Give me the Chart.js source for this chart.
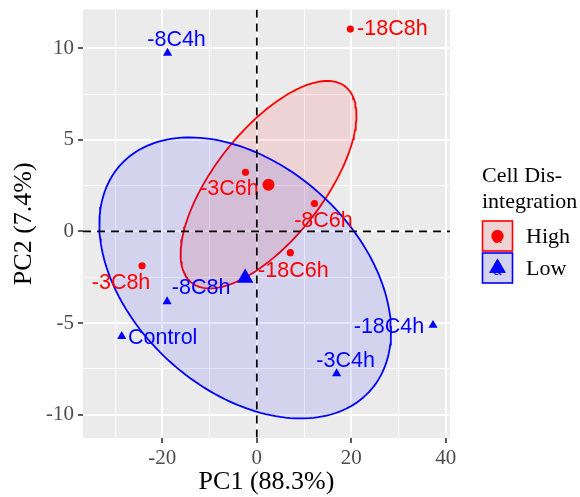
<!DOCTYPE html>
<html>
<head>
<meta charset="utf-8">
<script src="https://cdn.jsdelivr.net/npm/chart.js@4"></script>
<style>
  html, body { margin: 0; padding: 0; background: #ffffff; }
  #wrap { width: 580px; height: 497px; }
</style>
</head>
<body>
<div id="wrap"><canvas id="c" width="580" height="497"></canvas></div>
<script>
// ---------------- data ----------------
const groupNames = ['High', 'Low'];
const highLabels = ['-18C8h', '-3C6h', '-8C6h', '-18C6h', '-3C8h'];
const highX = [19.8, -2.4, 12.2, 7.1, -24.3];
const highY = [11.05, 3.23, 1.52, -1.16, -1.88];
const lowLabels = ['-8C4h', '-8C8h', 'Control', '-18C4h', '-3C4h'];
const lowX = [-18.9, -19.0, -28.6, 37.3, 16.9];
const lowY = [9.74, -3.83, -5.73, -5.12, -7.76];
const xTicks = [-30, -20, -10, 0, 10, 20, 30, 40];
const xTickLabels = ['', '-20', '', '0', '', '20', '', '40'];
const yTicks = [-10, -7.5, -5, -2.5, 0, 2.5, 5, 7.5, 10];
const yTickLabels = ['-10', '', '-5', '', '0', '', '5', '', '10'];
const xTitle = 'PC1 (88.3%)';
const yTitle = 'PC2 (7.4%)';
const legendTitle = ['Cell Dis-', 'integration'];
const ellipseLevelChi2 = 5.991465; // qchisq(0.95, 2)

// ---------------- style ----------------
const RED = '#FF0000', BLUE = '#0000FF';
const highLabelOffsets = [[42, 0], [-16, 17], [9, 17], [3, 18], [-21, 17]];
const lowLabelOffsets  = [[9, -13], [34, -13], [41, 2], [-44, 2], [9, -12]];

// confidence ellipse of the group mean (derived from the group's points)
function meanOf(a) { return a.reduce((s, v) => s + v, 0) / a.length; }
function confEllipse(xs, ys, segs) {
  const n = xs.length, mx = meanOf(xs), my = meanOf(ys);
  let sxx = 0, syy = 0, sxy = 0;
  for (let i = 0; i < n; i++) {
    sxx += (xs[i] - mx) ** 2; syy += (ys[i] - my) ** 2; sxy += (xs[i] - mx) * (ys[i] - my);
  }
  sxx /= (n - 1) * n; syy /= (n - 1) * n; sxy /= (n - 1) * n;
  const l11 = Math.sqrt(sxx), l21 = sxy / l11, l22 = Math.sqrt(syy - l21 * l21);
  const r = Math.sqrt(ellipseLevelChi2);
  const pts = [];
  for (let k = 0; k <= segs; k++) {
    const t = 2 * Math.PI * k / segs, c = Math.cos(t), s = Math.sin(t);
    pts.push({ x: mx + r * l11 * c, y: my + r * (l21 * c + l22 * s) });
  }
  return pts;
}
const toPts = (xs, ys) => xs.map((x, i) => ({ x, y: ys[i] }));

const bgPlugin = {
  id: 'bg',
  beforeDraw(chart) {
    const { ctx, chartArea: a } = chart;
    ctx.save();
    ctx.fillStyle = '#ffffff';
    ctx.fillRect(0, 0, chart.width, chart.height);
    ctx.fillStyle = '#EBEBEB';
    ctx.fillRect(a.left, a.top, a.right - a.left, a.bottom - a.top);
    ctx.restore();
  }
};

const overlayPlugin = {
  id: 'overlay',
  afterDatasetsDraw(chart) {
    const { ctx, chartArea: a, scales: { x, y } } = chart;
    ctx.save();
    ctx.beginPath();
    ctx.rect(a.left, a.top, a.right - a.left, a.bottom - a.top);
    ctx.clip();
    ctx.font = '21.5px "Liberation Sans", Arial, sans-serif';
    ctx.textAlign = 'center';
    ctx.textBaseline = 'middle';
    const drawLabels = (labels, xs, ys, offs, col) => {
      ctx.fillStyle = col;
      labels.forEach((t, i) => {
        ctx.fillText(t, x.getPixelForValue(xs[i]) + offs[i][0], y.getPixelForValue(ys[i]) + offs[i][1]);
      });
    };
    drawLabels(highLabels, highX, highY, highLabelOffsets, RED);
    drawLabels(lowLabels, lowX, lowY, lowLabelOffsets, BLUE);
    // reference lines at 0
    ctx.strokeStyle = '#000000';
    ctx.lineWidth = 1.7;
    ctx.setLineDash([8, 6]);
    const x0 = x.getPixelForValue(0), y0 = y.getPixelForValue(0);
    ctx.beginPath(); ctx.moveTo(x0, a.top); ctx.lineTo(x0, a.bottom); ctx.stroke();
    ctx.beginPath(); ctx.moveTo(a.left, y0); ctx.lineTo(a.right, y0); ctx.stroke();
    ctx.restore();

    // axis titles
    ctx.save();
    ctx.fillStyle = '#000000';
    ctx.font = '26px "Liberation Serif", "Times New Roman", serif';
    ctx.textAlign = 'center';
    ctx.textBaseline = 'middle';
    ctx.fillText(xTitle, (a.left + a.right) / 2, 482);
    ctx.translate(24, (a.top + a.bottom) / 2);
    ctx.rotate(-Math.PI / 2);
    ctx.fillText(yTitle, 0, 0);
    ctx.restore();

    // legend
    ctx.save();
    ctx.fillStyle = '#000000';
    ctx.font = '22px "Liberation Serif", "Times New Roman", serif';
    ctx.textAlign = 'left';
    ctx.textBaseline = 'alphabetic';
    ctx.fillText(legendTitle[0], 482, 182);
    ctx.fillText(legendTitle[1], 482, 208);
    const keys = [
      { name: groupNames[0], col: RED, fill: 'rgba(255,0,0,0.1)', style: 'circle', r: 6, top: 221 },
      { name: groupNames[1], col: BLUE, fill: 'rgba(0,0,255,0.1)', style: 'triangle', r: 9.5, top: 253 }
    ];
    keys.forEach(k => {
      const L = 482.5, S = 30;
      ctx.fillStyle = '#EBEBEB'; ctx.fillRect(L, k.top, S, S);
      ctx.fillStyle = k.fill; ctx.fillRect(L, k.top, S, S);
      ctx.strokeStyle = k.col; ctx.lineWidth = 1.6; ctx.strokeRect(L, k.top, S, S);
      const cx = L + S / 2, cy = k.top + S / 2;
      ctx.fillStyle = k.col;
      ctx.font = '15px "Liberation Sans", Arial, sans-serif';
      ctx.textAlign = 'center'; ctx.textBaseline = 'middle';
      ctx.fillText('a', cx, cy + 3);
      Chart.helpers.drawPoint(ctx, { pointStyle: k.style, radius: k.r, borderWidth: 0 }, cx, cy);
      ctx.fill();
      ctx.fillStyle = '#000000';
      ctx.font = '22px "Liberation Serif", "Times New Roman", serif';
      ctx.textAlign = 'left'; ctx.textBaseline = 'middle';
      ctx.fillText(k.name, 526, cy + 1);
    });
    ctx.restore();
  }
};

const tickFont = { family: '"Liberation Serif", "Times New Roman", serif', size: 21 };
const isMajorX = v => xTickLabels[xTicks.indexOf(v)] !== '';
const isMajorY = v => yTickLabels[yTicks.indexOf(v)] !== '';

new Chart(document.getElementById('c'), {
  type: 'scatter',
  data: {
    datasets: [
      { label: 'ellipseHigh', data: confEllipse(highX, highY, 180), showLine: true, fill: 'shape',
        backgroundColor: 'rgba(255,0,0,0.1)', borderColor: RED, borderWidth: 1.8, pointRadius: 0, order: 10 },
      { label: 'ellipseLow', data: confEllipse(lowX, lowY, 180), showLine: true, fill: 'shape',
        backgroundColor: 'rgba(0,0,255,0.1)', borderColor: BLUE, borderWidth: 1.8, pointRadius: 0, order: 9 },
      { label: 'High', data: toPts(highX, highY), pointStyle: 'circle', pointRadius: 3.6,
        backgroundColor: RED, borderColor: RED, borderWidth: 0, order: 2 },
      { label: 'Low', data: toPts(lowX, lowY), pointStyle: 'triangle', pointRadius: 5.3,
        backgroundColor: BLUE, borderColor: BLUE, borderWidth: 0, order: 2 },
      { label: 'HighMean', data: [{ x: meanOf(highX), y: meanOf(highY) }], pointStyle: 'circle', pointRadius: 6,
        backgroundColor: RED, borderColor: RED, borderWidth: 0, order: 1 },
      { label: 'LowMean', data: [{ x: meanOf(lowX), y: meanOf(lowY) }], pointStyle: 'triangle', pointRadius: 9.5,
        backgroundColor: BLUE, borderColor: BLUE, borderWidth: 0, order: 1 }
    ]
  },
  options: {
    responsive: false,
    animation: false,
    events: [],
    layout: { padding: { top: 8, right: 130, bottom: 0, left: 0 } },
    plugins: { legend: { display: false }, tooltip: { enabled: false } },
    scales: {
      x: {
        type: 'linear', min: -36.8, max: 40.9,
        afterFit: s => { s.height = 59; s.paddingLeft = 0; s.paddingRight = 0; },
        afterBuildTicks: s => { s.ticks = xTicks.map(v => ({ value: v })); },
        border: { display: false },
        grid: {
          color: '#FFFFFF',
          lineWidth: c => (c.tick && isMajorX(c.tick.value)) ? 2 : 1,
          tickColor: c => (c.tick && isMajorX(c.tick.value)) ? '#333333' : 'rgba(0,0,0,0)',
          tickWidth: 1.6, tickLength: 5
        },
        ticks: {
          color: '#4D4D4D', font: tickFont, padding: 3, maxRotation: 0, autoSkip: false,
          callback: (v, i) => xTickLabels[xTicks.indexOf(v)]
        }
      },
      y: {
        type: 'linear', min: -11.28, max: 12.12,
        afterFit: s => { s.width = 83; s.paddingTop = 0; s.paddingBottom = 0; },
        afterBuildTicks: s => { s.ticks = yTicks.map(v => ({ value: v })); },
        border: { display: false },
        grid: {
          color: '#FFFFFF',
          lineWidth: c => (c.tick && isMajorY(c.tick.value)) ? 2 : 1,
          tickColor: c => (c.tick && isMajorY(c.tick.value)) ? '#333333' : 'rgba(0,0,0,0)',
          tickWidth: 1.6, tickLength: 5
        },
        ticks: {
          color: '#4D4D4D', font: tickFont, padding: 4, autoSkip: false,
          callback: (v, i) => yTickLabels[yTicks.indexOf(v)]
        }
      }
    }
  },
  plugins: [bgPlugin, overlayPlugin]
});
</script>
</body>
</html>
